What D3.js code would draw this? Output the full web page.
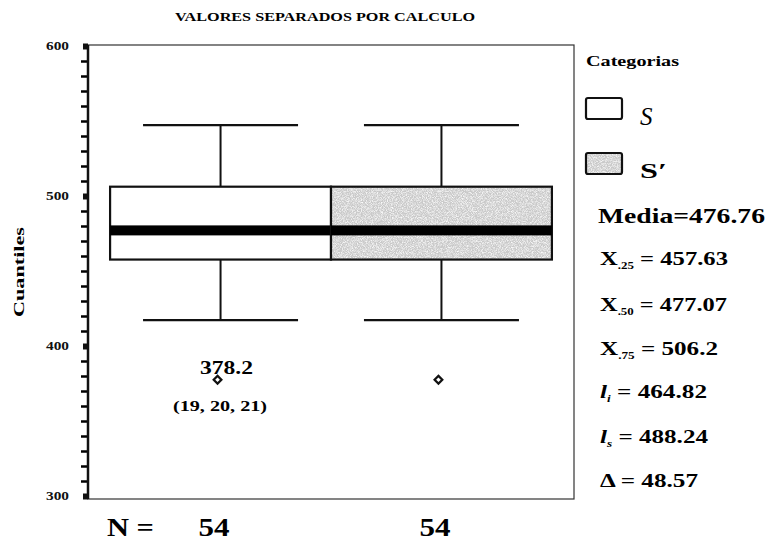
<!DOCTYPE html>
<html><head><meta charset="utf-8">
<script src="https://cdn.jsdelivr.net/npm/d3@7"></script>
<style>
body{margin:0;background:#fff;}
svg{display:block;font-family:"Liberation Serif","Times New Roman",serif;font-weight:bold;}
</style></head>
<body><svg id="chart" width="771" height="543"></svg>
<script>
const categories = ["S", "S\u2032"];
const whiskerLow = [417.3, 417.3];
const q1 = [457.63, 457.63];
const median = [477.07, 477.07];
const q3 = [506.2, 506.2];
const whiskerHigh = [547.3, 547.3];
const outliers = [378.2, 378.2];
const counts = [54, 54];
const yTicks = [300, 400, 500, 600];
const minorTicks = [310, 320, 330, 340, 350, 360, 370, 380, 390,
  410, 420, 430, 440, 450, 460, 470, 480, 490,
  510, 520, 530, 540, 550, 560, 570, 580, 590];
const statsLabels = [
  {main:"X", sub:".25", val:" = 457.63"},
  {main:"X", sub:".50", val:" = 477.07"},
  {main:"X", sub:".75", val:" = 506.2"},
  {main:"l", sub:"i", val:" = 464.82", ital:true},
  {main:"l", sub:"s", val:" = 488.24", ital:true},
  {main:"\u0394", sub:"", val:" = 48.57"}
];
const fills = ["#ffffff", "#c9c9c9"];

const svg = d3.select("#chart");
const plot = {left:88, right:574, top:45, bottom:499};
const y = d3.scaleLinear().domain([300, 600]).range([496, 46]);
const x = d3.scaleBand().domain(categories).range([plot.left, plot.right]).paddingInner(0).paddingOuter(0.1);

function fit(sel, len){ return sel.attr("textLength", len).attr("lengthAdjust","spacingAndGlyphs"); }

// grain filter
const defs = svg.append("defs");
const f = defs.append("filter").attr("id","grain").attr("x",0).attr("y",0).attr("width",1).attr("height",1);
f.append("feTurbulence").attr("type","fractalNoise").attr("baseFrequency",1.2).attr("numOctaves",1).attr("seed",3).attr("result","n");
f.append("feColorMatrix").attr("in","n").attr("type","matrix")
  .attr("values","0 0 0 0 1  0 0 0 0 1  0 0 0 0 1  0 0 0 -2.2 1.35").attr("result","w");
f.append("feComposite").attr("in","w").attr("in2","SourceGraphic").attr("operator","in").attr("result","wd");
f.append("feMerge").call(m=>{m.append("feMergeNode").attr("in","SourceGraphic");m.append("feMergeNode").attr("in","wd");});

// title
fit(svg.append("text").attr("x", 175).attr("y", 21)
  .attr("font-size", 13.5).text("VALORES SEPARADOS POR CALCULO"), 300);

// plot frame
svg.append("rect").attr("x", plot.left).attr("y", plot.top)
  .attr("width", plot.right - plot.left).attr("height", plot.bottom - plot.top)
  .attr("fill","none").attr("stroke","#333").attr("stroke-width",1.2);

// minor ticks via a second axis
const minorAxis = d3.axisLeft(y).tickValues(minorTicks).tickSize(7).tickFormat(() => "");
const mg = svg.append("g").attr("transform", `translate(${plot.left},0)`).call(minorAxis);
mg.select(".domain").remove();
mg.selectAll(".tick line").attr("stroke","#000").attr("stroke-width",2.5);

// major ticks + labels via axis
const major = d3.axisLeft(y).tickValues(yTicks).tickSize(5).tickPadding(14).tickFormat(d3.format("d"));
const ag = svg.append("g").attr("transform", `translate(${plot.left},0)`).call(major);
ag.select(".domain").attr("stroke","#111").attr("stroke-width",2.5).attr("d", `M0,${plot.top}V${plot.bottom}`);
ag.selectAll(".tick line").attr("stroke","#111").attr("stroke-width",6);
ag.selectAll(".tick text").attr("font-size",12).attr("font-family","Liberation Serif, serif")
  .attr("font-weight","bold").attr("fill","#111").attr("textLength",23).attr("lengthAdjust","spacingAndGlyphs");

fit(svg.append("text").attr("transform","translate(24,272) rotate(-90)")
  .attr("text-anchor","middle").attr("font-size",14).text("Cuantiles"), 90);

// boxes
const g = svg.append("g");
categories.forEach((c, i) => {
  const x0 = x(c), w = x.bandwidth(), cx = x0 + w/2;
  const capW = 155;
  g.append("line").attr("x1",cx).attr("x2",cx).attr("y1",y(whiskerHigh[i])).attr("y2",y(q3[i]))
    .attr("stroke","#111").attr("stroke-width",2);
  g.append("line").attr("x1",cx).attr("x2",cx).attr("y1",y(q1[i])).attr("y2",y(whiskerLow[i]))
    .attr("stroke","#111").attr("stroke-width",2);
  g.append("line").attr("x1",cx-capW/2).attr("x2",cx+capW/2).attr("y1",y(whiskerHigh[i])).attr("y2",y(whiskerHigh[i]))
    .attr("stroke","#111").attr("stroke-width",2.2);
  g.append("line").attr("x1",cx-capW/2).attr("x2",cx+capW/2).attr("y1",y(whiskerLow[i])).attr("y2",y(whiskerLow[i]))
    .attr("stroke","#111").attr("stroke-width",2.2);
  g.append("rect").attr("x",x0).attr("y",y(q3[i])).attr("width",w).attr("height",y(q1[i])-y(q3[i]))
    .attr("fill",fills[i]).attr("filter", i===1 ? "url(#grain)" : null);
  g.append("rect").attr("x",x0).attr("y",y(q3[i])).attr("width",w).attr("height",y(q1[i])-y(q3[i]))
    .attr("fill","none").attr("stroke","#111").attr("stroke-width",2.2);
  g.append("rect").attr("x",x0).attr("y",y(median[i])-5).attr("width",w).attr("height",10).attr("fill","#000");
  g.append("path").attr("d", d3.symbol(d3.symbolSquare, 30)())
    .attr("transform",`translate(${cx-3},${y(outliers[i])+1}) rotate(45)`)
    .attr("fill","#fff").attr("stroke","#111").attr("stroke-width",2.2);
  fit(svg.append("text").attr("x", cx-22).attr("y", 536)
    .attr("font-size",25).text(counts[i]), 31);
});
fit(svg.append("text").attr("x",107).attr("y",536).attr("font-size",25).text("N ="), 47);

// outlier annotation
fit(svg.append("text").attr("x",200).attr("y",374).attr("font-size",18).text(outliers[0]), 53);
fit(svg.append("text").attr("x",173).attr("y",411).attr("font-size",14).text("(19, 20, 21)"), 94);

// legend
fit(svg.append("text").attr("x",586).attr("y",66).attr("font-size",14.5).text("Categorias"), 93);
const legY = [98, 153];
categories.forEach((c,i)=>{
  svg.append("rect").attr("x",586).attr("y",legY[i]).attr("width",36).attr("height",21).attr("rx",2)
    .attr("fill",fills[i]).attr("filter", i===1 ? "url(#grain)" : null);
  svg.append("rect").attr("x",586).attr("y",legY[i]).attr("width",36).attr("height",21).attr("rx",2)
    .attr("fill","none").attr("stroke","#111").attr("stroke-width",2.2);
});
svg.append("text").attr("x",640).attr("y",125).attr("font-size",25).attr("font-style","italic")
  .attr("font-weight","normal").text(categories[0]);
fit(svg.append("text").attr("x",640).attr("y",178).attr("font-size",22).text(categories[1]), 27);

fit(svg.append("text").attr("x",598).attr("y",223).attr("font-size",21).text("Media=476.76"), 167);

const statY = [265, 311, 355, 398, 443, 487];
const statW = [128, 127, 118, 107, 108, 98];
statsLabels.forEach((s,i)=>{
  const t = svg.append("text").attr("x",600).attr("y",statY[i]).attr("font-size",19);
  t.append("tspan").attr("font-style", s.ital ? "italic" : "normal").text(s.main);
  if (s.sub) t.append("tspan").attr("font-size",10).attr("dy",4).attr("font-style", s.ital ? "italic":"normal").text(s.sub);
  t.append("tspan").attr("dy", s.sub ? -4 : 0).text(s.val);
  fit(t, statW[i]);
});
</script></body></html>
